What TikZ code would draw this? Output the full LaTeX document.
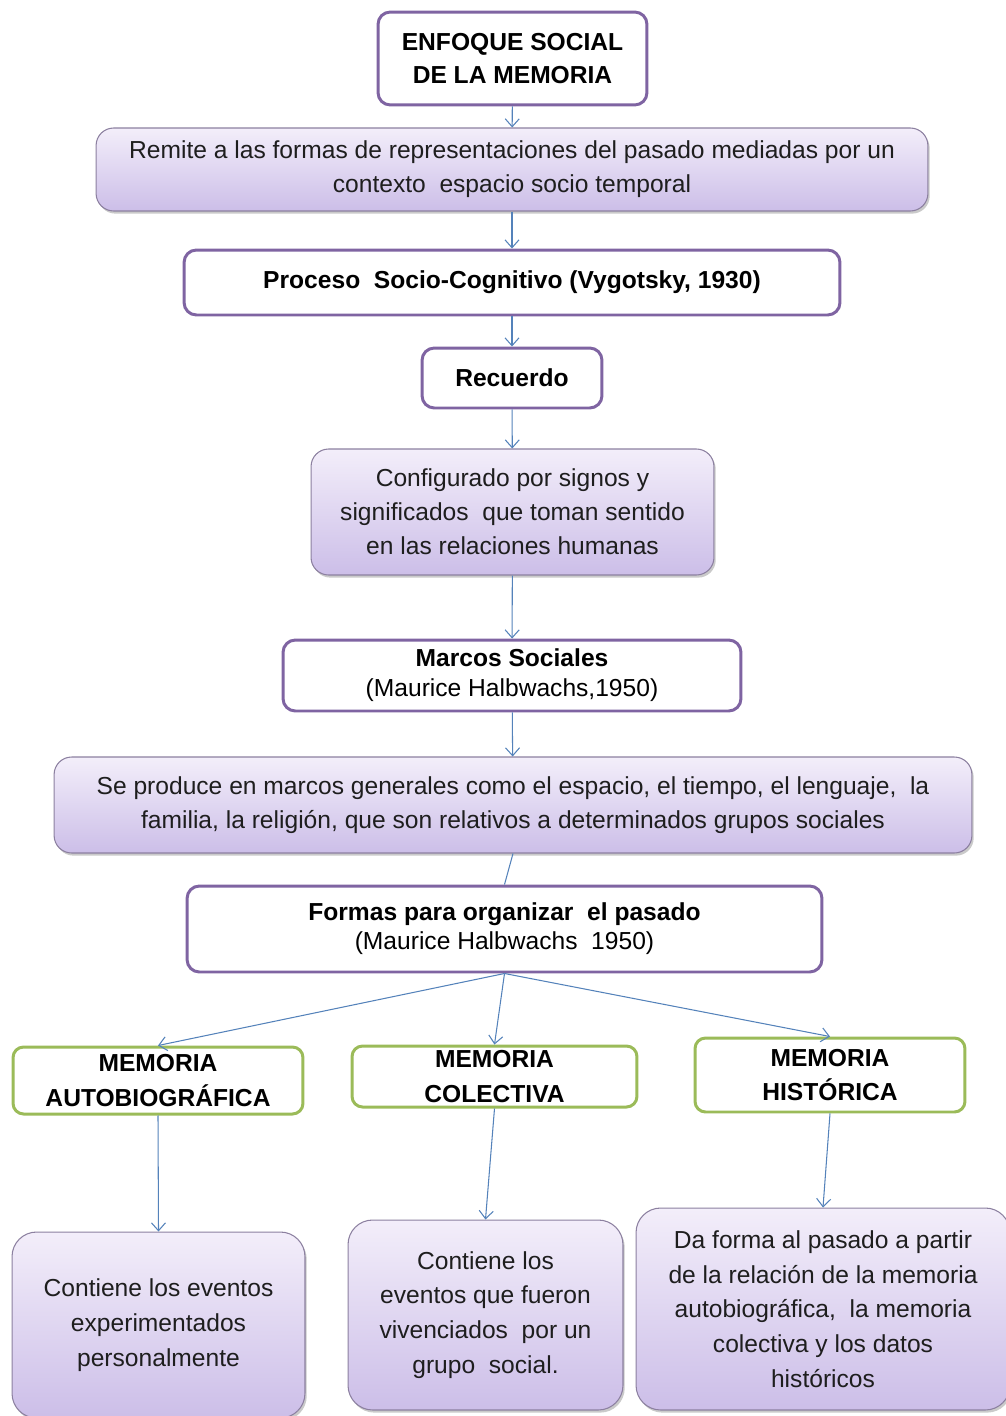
\documentclass[tikz,border=0pt]{standalone}
\usepackage{fontspec}
\setmainfont{Liberation Sans}
\usepackage{tikz}
\usetikzlibrary{positioning,arrows.meta,shadows}
\definecolor{boxpurple}{RGB}{127,100,162}
\definecolor{boxgreen}{RGB}{155,187,89}
\definecolor{lavtop}{RGB}{243,238,250}
\definecolor{lavbot}{RGB}{204,190,232}
\definecolor{lavline}{RGB}{140,128,160}
\definecolor{arrowblue}{RGB}{84,130,186}
\definecolor{inktext}{RGB}{30,30,30}

\begin{document}
\begin{tikzpicture}[x=0.02cm,y=-0.02cm,
  font=\fontsize{14}{19.4}\selectfont,
  titlebox/.style={draw=boxpurple,line width=1.7pt,fill=white,rounded corners=7pt,align=center,inner sep=0pt},
  lavbox/.style={draw=lavline,line width=0.6pt,top color=lavtop,bottom color=lavbot,rounded corners=10pt,align=center,inner sep=0pt,text=inktext,
    drop shadow={shadow xshift=1pt,shadow yshift=-1.5pt,fill=black!35,opacity=0.6}},
  membox/.style={draw=boxgreen,line width=1.7pt,fill=white,rounded corners=6pt,align=center,inner sep=0pt,font=\fontsize{14}{19.4}\selectfont\bfseries},
  link/.style={arrowblue,line width=0.6pt,-{Straight Barb[length=4.5pt,width=8pt]}}]
\useasboundingbox (0,0) rectangle (1005,1416);

% main column
\node[titlebox,minimum width=5.38cm,minimum height=1.86cm,font=\fontsize{14}{19}\selectfont\bfseries] (enfoque) at (512.5,58.5) {ENFOQUE SOCIAL\\DE LA MEMORIA};
\node[lavbox,minimum width=16.64cm,minimum height=1.66cm] (remite) at (512,169.5) {Remite a las formas de representaciones del pasado mediadas por un\\contexto~ espacio socio temporal};
\node[titlebox,minimum width=13.12cm,minimum height=1.3cm,font=\fontsize{14}{19.4}\selectfont\bfseries] (proceso) at (512,282.5) {Proceso~ Socio-Cognitivo (Vygotsky, 1930)};
\node[titlebox,minimum width=3.6cm,minimum height=1.2cm,font=\fontsize{14}{19.4}\selectfont\bfseries] (recuerdo) at (512,378) {Recuerdo};
\node[lavbox,minimum width=8.06cm,minimum height=2.52cm] (configurado) at (512.5,512) {Configurado por signos y\\significados~ que toman sentido\\en las relaciones humanas};
\node[titlebox,minimum width=9.16cm,minimum height=1.42cm,font=\fontsize{14}{17}\selectfont] (marcos) at (512,675.5) {\textbf{Marcos Sociales}\\(Maurice Halbwachs,1950)};
\node[lavbox,minimum width=18.36cm,minimum height=1.92cm] (produce) at (513,805) {Se produce en marcos generales como el espacio, el tiempo, el lenguaje,~ la\\familia, la religión, que son relativos a determinados grupos sociales};
\node[titlebox,minimum width=12.7cm,minimum height=1.72cm,font=\fontsize{14}{16.5}\selectfont] (formas) at (504.5,929) {\textbf{Formas para organizar~ el pasado}\\(Maurice Halbwachs~ 1950)};

% three memories
\node[membox,minimum width=5.8cm,minimum height=1.34cm] (autobio) at (158,1080.5) {MEMORIA\\AUTOBIOGRÁFICA};
\node[membox,minimum width=5.7cm,minimum height=1.22cm] (colectiva) at (494.5,1076.5) {MEMORIA\\COLECTIVA};
\node[membox,minimum width=5.4cm,minimum height=1.48cm] (historica) at (830,1075) {MEMORIA\\HISTÓRICA};

\node[lavbox,rounded corners=14pt,minimum width=5.86cm,minimum height=3.72cm,font=\fontsize{14}{19.8}\selectfont] (eventos) at (158.5,1325) {Contiene los eventos\\experimentados\\personalmente};
\node[lavbox,rounded corners=14pt,minimum width=5.5cm,minimum height=3.8cm,font=\fontsize{14}{19.8}\selectfont] (vivencia) at (485.5,1315) {Contiene los\\eventos que fueron\\vivenciados~ por un\\grupo~ social.};
\node[lavbox,rounded corners=14pt,minimum width=7.48cm,minimum height=4.04cm,font=\fontsize{14}{19.8}\selectfont] (daforma) at (823,1309) {Da forma al pasado a partir\\de la relación de la memoria\\autobiográfica,~ la memoria\\colectiva y los datos\\históricos};

% connectors
\draw[link] (enfoque) -- (remite);
\draw[link] (remite) -- (proceso);
\draw[link] (proceso) -- (recuerdo);
\draw[link] (recuerdo) -- (configurado);
\draw[link] (configurado) -- (marcos);
\draw[link] (marcos) -- (produce);
\draw[arrowblue,line width=0.6pt] (produce.south) -- (formas.north);
\draw[link] (formas.south) -- (autobio.north);
\draw[link] (formas.south) -- (colectiva.north);
\draw[link] (formas.south) -- (historica.north);
\draw[link] (autobio.south) -- (eventos.north);
\draw[link] (colectiva.south) -- (vivencia.north);
\draw[link] (historica.south) -- (daforma.north);
\end{tikzpicture}
\end{document}
